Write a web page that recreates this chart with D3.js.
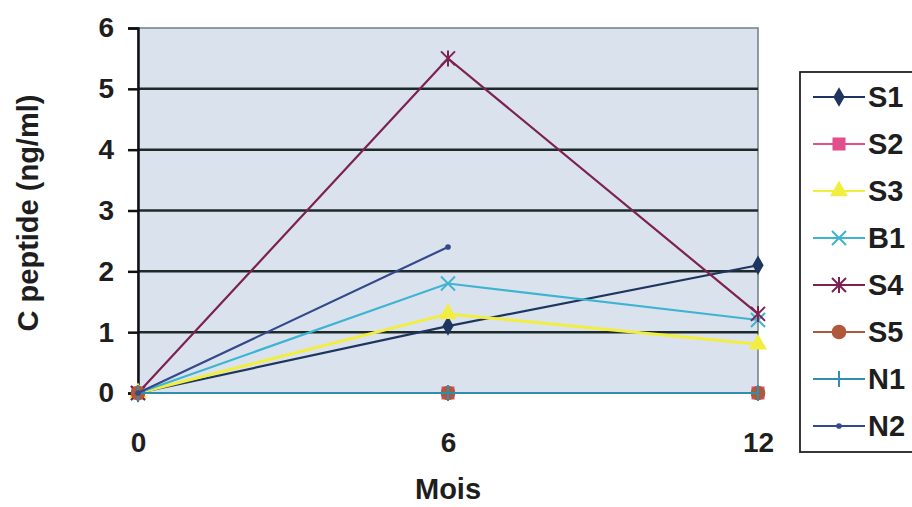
<!DOCTYPE html>
<html>
<head>
<meta charset="utf-8">
<script src="https://d3js.org/d3.v7.min.js"></script>
<style>
  body { margin: 0; background: #fff; }
  text { font-family: Arial, "Liberation Sans", sans-serif; font-weight: bold; fill: #1e1e1e; }
  .tick text { font-size: 28px; }
  .grid line { stroke: #1c2a2a; stroke-width: 2.5; }
</style>
</head>
<body>
<script>
var months = [0, 6, 12];
var yTicks = [0, 1, 2, 3, 4, 5, 6];
var names = ["S1", "S2", "S3", "B1", "S4", "S5", "N1", "N2"];
var colors = ["#1e3560", "#e0508c", "#f2ee40", "#3eb4d2", "#7c2250", "#b0583a", "#2e8fae", "#34498c"];
var shapes = ["diamond", "square", "triangle", "x", "star", "circle", "plus", "dot"];
var values = [
  [0, 1.1, 2.1],
  [0, 0, 0],
  [0, 1.3, 0.8],
  [0, 1.8, 1.2],
  [0, 5.5, 1.3],
  [0, 0, 0],
  [0, 0, 0],
  [0, 2.4]
];

var W = 912, H = 507;
var m = {left: 138, top: 28, right: 758, bottom: 393};

var svg = d3.select("body").append("svg").attr("width", W).attr("height", H);

var x = d3.scaleLinear().domain([0, 12]).range([m.left, m.right]);
var y = d3.scaleLinear().domain([0, 6]).range([m.bottom, m.top]);

// plot background
svg.append("rect").attr("x", m.left).attr("y", m.top)
  .attr("width", m.right - m.left).attr("height", m.bottom - m.top)
  .attr("fill", "#dae3ed").attr("stroke", "#6f7f86").attr("stroke-width", 1.5);

// gridlines
svg.append("g").attr("class", "grid").selectAll("line")
  .data(yTicks.filter(function(d){ return d > 0 && d < 6; })).enter().append("line")
  .attr("x1", m.left).attr("x2", m.right)
  .attr("y1", function(d){ return y(d); }).attr("y2", function(d){ return y(d); });

// y axis
var yAxis = svg.append("g").attr("transform", "translate(" + m.left + ",0)")
  .call(d3.axisLeft(y).tickValues(yTicks).tickSize(10).tickPadding(14).tickFormat(d3.format("d")));
yAxis.select(".domain").attr("stroke", "#111").attr("stroke-width", 2.5);
yAxis.selectAll(".tick line").attr("stroke", "#111").attr("stroke-width", 2.5);

// x axis
var xAxis = svg.append("g").attr("transform", "translate(0," + m.bottom + ")")
  .call(d3.axisBottom(x).tickValues(months).tickSize(0).tickPadding(39).tickFormat(d3.format("d")));
xAxis.select(".domain").remove();

// axis titles
svg.append("text").attr("transform", "translate(38," + 213 + ") rotate(-90)")
  .attr("text-anchor", "middle").style("font-size", "29px").text("C peptide (ng/ml)");
svg.append("text").attr("x", x(6)).attr("y", 499)
  .attr("text-anchor", "middle").style("font-size", "29px").text("Mois");

var line = d3.line().x(function(d, i){ return x(months[i]); }).y(function(d){ return y(d); });

function marker(g, shape, color) {
  if (shape == "diamond") g.append("path").attr("d", d3.symbol(d3.symbolDiamond, 110)()).attr("fill", color);
  if (shape == "square") g.append("path").attr("d", d3.symbol(d3.symbolSquare, 170)()).attr("fill", color);
  if (shape == "triangle") g.append("path").attr("d", d3.symbol(d3.symbolTriangle, 140)()).attr("fill", color);
  if (shape == "circle") g.append("path").attr("d", d3.symbol(d3.symbolCircle, 170)()).attr("fill", color);
  if (shape == "dot") g.append("path").attr("d", d3.symbol(d3.symbolCircle, 25)()).attr("fill", color);
  if (shape == "x") g.append("path").attr("d", "M-7,-7L7,7M-7,7L7,-7").attr("stroke", color).attr("stroke-width", 2);
  if (shape == "plus") g.append("path").attr("d", "M0,-8V8").attr("stroke", color).attr("stroke-width", 2);
  if (shape == "star") g.append("path").attr("d", "M-7,-7L7,7M-7,7L7,-7M0,-8V8").attr("stroke", color).attr("stroke-width", 2);
}

var series = svg.append("g").selectAll("g").data(names).enter().append("g");
series.each(function(name, k) {
  var g = d3.select(this);
  g.append("path").attr("d", line(values[k])).attr("fill", "none")
    .attr("stroke", colors[k]).attr("stroke-width", k == 2 ? 3 : 2.2);
  values[k].forEach(function(v, i) {
    marker(g.append("g").attr("transform", "translate(" + x(months[i]) + "," + y(v) + ")"), shapes[k], colors[k]);
  });
});

// legend
var lg = svg.append("g");
lg.append("rect").attr("x", 800).attr("y", 72).attr("width", 120).attr("height", 380)
  .attr("fill", "#fff").attr("stroke", "#222").attr("stroke-width", 1.8);
names.forEach(function(name, k) {
  var ly = 97 + k * 47;
  lg.append("line").attr("x1", 813).attr("x2", 865).attr("y1", ly).attr("y2", ly)
    .attr("stroke", colors[k]).attr("stroke-width", 2);
  marker(lg.append("g").attr("transform", "translate(839," + ly + ")"), shapes[k], colors[k]);
  lg.append("text").attr("x", 868).attr("y", ly).attr("dy", "0.36em")
    .style("font-size", "29px").text(name);
});
</script>
</body>
</html>
